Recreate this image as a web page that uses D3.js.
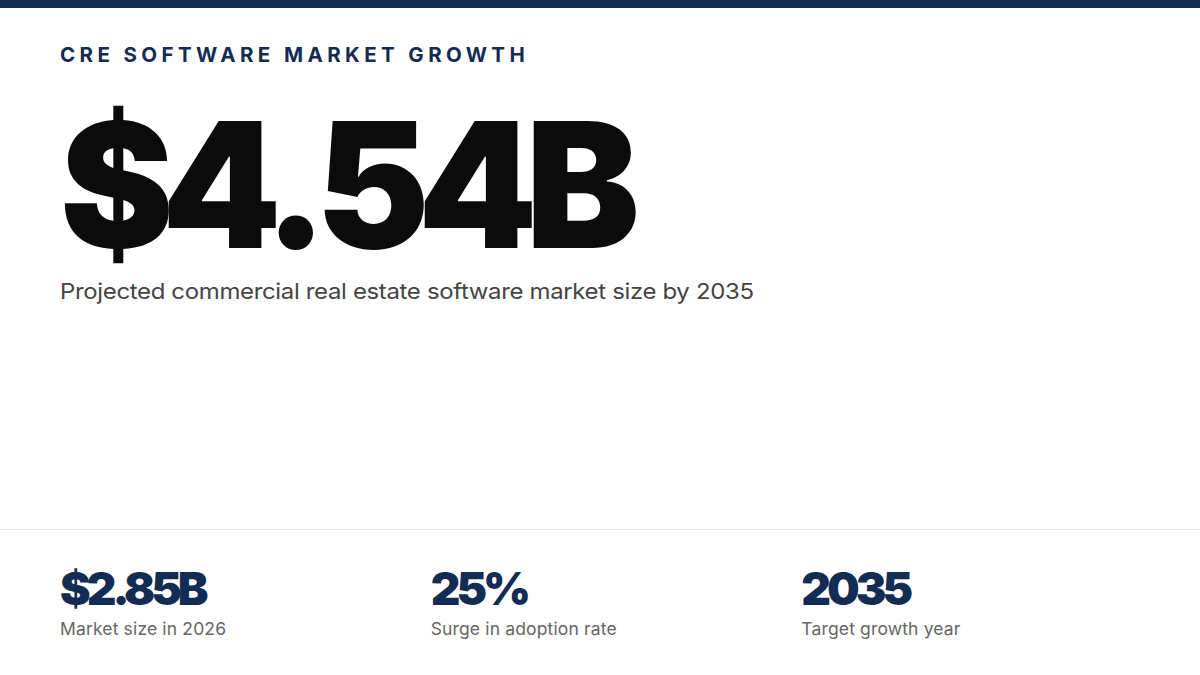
<!DOCTYPE html>
<html>
<head>
<meta charset="utf-8">
<script src="https://cdn.jsdelivr.net/npm/d3@7"></script>
<style>
  body { margin: 0; background: #fff; }
  svg { display: block; font-family: Inter, "Noto Sans", sans-serif; }
</style>
</head>
<body>
<svg id="chart" width="1200" height="675"></svg>
<script>
const title = 'CRE SOFTWARE MARKET GROWTH'
const headline = '$4.54B'
const headlineNote = 'Projected commercial real estate software market size by 2035'

// bottom stats
const statValues = ['$2.85B', '25%', '2035']
const statLabels = ['Market size in 2026', 'Surge in adoption rate', 'Target growth year']

const navy = '#132c53'
const W = 1200, H = 675

const svg = d3.select('#chart')

// squeeze/stretch a text horizontally so it spans `w` px from x
function fitWidth(sel, x, w) {
  const n = sel.node().getComputedTextLength()
  sel.attr('x', 0).attr('transform', `translate(${x},0) scale(${w / n},1)`)
}

svg.append('rect')
  .attr('width', W).attr('height', 8)
  .attr('fill', navy)

svg.append('text')
  .attr('x', 60).attr('y', 62)
  .attr('fill', navy)
  .attr('font-size', 20.5)
  .attr('font-weight', 700)
  .attr('letter-spacing', 4.4)
  .text(title)

const big = svg.append('text')
  .attr('y', 248)
  .attr('fill', '#0b0b0b')
  .attr('font-size', 174)
  .attr('font-weight', 900)
  .attr('letter-spacing', -12)
  .text(headline)
fitWidth(big, 60, 568)

const note = svg.append('text')
  .attr('y', 299)
  .attr('fill', '#444')
  .attr('font-size', 22)
  .attr('letter-spacing', -0.3)
  .text(headlineNote)
fitWidth(note, 60, 694)

svg.append('line')
  .attr('x1', 0).attr('x2', W)
  .attr('y1', 529.5).attr('y2', 529.5)
  .attr('stroke', '#e6e6e6')

const x = d3.scaleBand()
  .domain(d3.range(statValues.length))
  .range([60, 1172])

const stat = svg.selectAll('g.stat')
  .data(statValues)
  .join('g')
  .attr('class', 'stat')
  .attr('transform', (d, i) => `translate(${x(i)},0)`)

stat.append('text')
  .attr('y', 605)
  .attr('fill', navy)
  .attr('font-size', 46)
  .attr('font-weight', 900)
  .attr('letter-spacing', -4)
  .text(d => d)

stat.append('text')
  .attr('y', 635)
  .attr('fill', '#666')
  .attr('font-size', 17.5)
  .attr('letter-spacing', 0.15)
  .text((d, i) => statLabels[i])
</script>
</body>
</html>
